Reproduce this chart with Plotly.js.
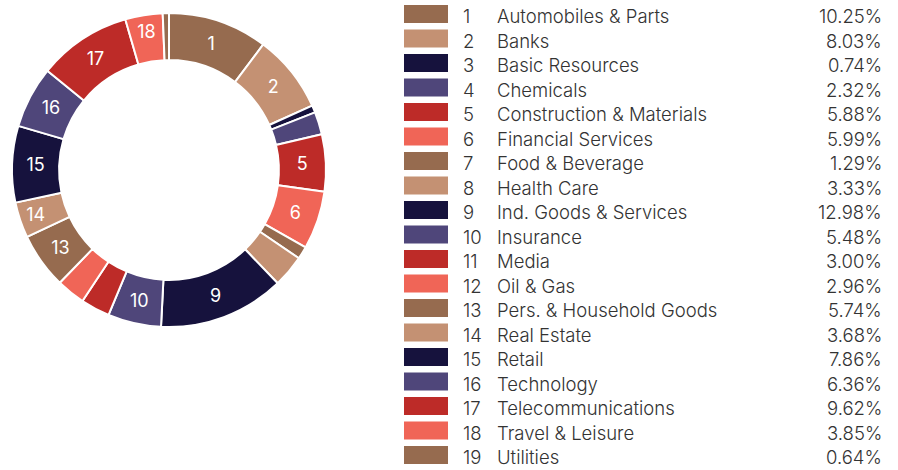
<!DOCTYPE html>
<html>
<head>
<meta charset="utf-8">
<script src="https://cdn.plot.ly/plotly-3.0.1.min.js"></script>
<style>html,body{margin:0;padding:0;background:#fff;}#chart{width:898px;height:470px;}</style>
</head>
<body>
<div id="chart"></div>
<script>
const ids = ["1","2","3","4","5","6","7","8","9","10","11","12","13","14","15","16","17","18","19"];
const sectors = ["Automobiles & Parts","Banks","Basic Resources","Chemicals","Construction & Materials","Financial Services","Food & Beverage","Health Care","Ind. Goods & Services","Insurance","Media","Oil & Gas","Pers. & Household Goods","Real Estate","Retail","Technology","Telecommunications","Travel & Leisure","Utilities"];
const weights = [10.25,8.03,0.74,2.32,5.88,5.99,1.29,3.33,12.98,5.48,3.00,2.96,5.74,3.68,7.86,6.36,9.62,3.85,0.64];
const palette = ["#966b4f","#c49173","#16123d","#4f467a","#bd2b28","#f06557"];
const colors = ids.map((_, i) => palette[i % palette.length]);
const sliceLabels = ids.map((id, i) => weights[i] >= 3.5 ? id : "");

const W = 898, H = 470;
const pieCx = 169, pieCy = 170, pieR = 157;

const trace = {
  type: "pie",
  values: weights,
  labels: sectors,
  text: sliceLabels,
  textinfo: "text",
  textposition: "inside",
  insidetextorientation: "horizontal",
  insidetextfont: {family: "Inter, Roboto, Arial, sans-serif", size: 18, color: "#ffffff"},
  hole: 0.7,
  sort: false,
  direction: "clockwise",
  rotation: 0,
  marker: {colors: colors, line: {color: "#ffffff", width: 2}},
  domain: {x: [(pieCx - pieR) / W, (pieCx + pieR) / W], y: [(H - pieCy - pieR) / H, (H - pieCy + pieR) / H]},
  showlegend: false,
  hoverinfo: "label+percent"
};

const rowY0 = 14, rowStep = 24.5;
const shapes = [];
const annotations = [];
const fnt = {family: "Inter, Roboto, Arial, sans-serif", size: 18.5, weight: 300, color: "#333333"};
ids.forEach((id, i) => {
  const yc = rowY0 + i * rowStep;
  shapes.push({type: "rect", xref: "paper", yref: "paper",
    x0: 404 / W, x1: 448 / W, y0: 1 - (yc - 9) / H, y1: 1 - (yc + 9) / H,
    fillcolor: colors[i], line: {width: 0}});
  const ty = 1 - (yc + 2.3) / H;
  annotations.push({xref: "paper", yref: "paper", x: 461 / W, y: ty, xanchor: "left", yanchor: "middle", text: id, showarrow: false, font: fnt});
  annotations.push({xref: "paper", yref: "paper", x: 495 / W, y: ty, xanchor: "left", yanchor: "middle", text: sectors[i], showarrow: false, font: fnt});
  annotations.push({xref: "paper", yref: "paper", x: 884 / W, y: ty, xanchor: "right", yanchor: "middle", text: weights[i].toFixed(2) + "%", showarrow: false, font: fnt});
});

const layout = {
  width: W, height: H,
  margin: {l: 0, r: 0, t: 0, b: 0},
  paper_bgcolor: "#ffffff",
  plot_bgcolor: "#ffffff",
  shapes: shapes,
  annotations: annotations,
  showlegend: false
};

Plotly.newPlot("chart", [trace], layout, {displayModeBar: false, responsive: false});
</script>
</body>
</html>
